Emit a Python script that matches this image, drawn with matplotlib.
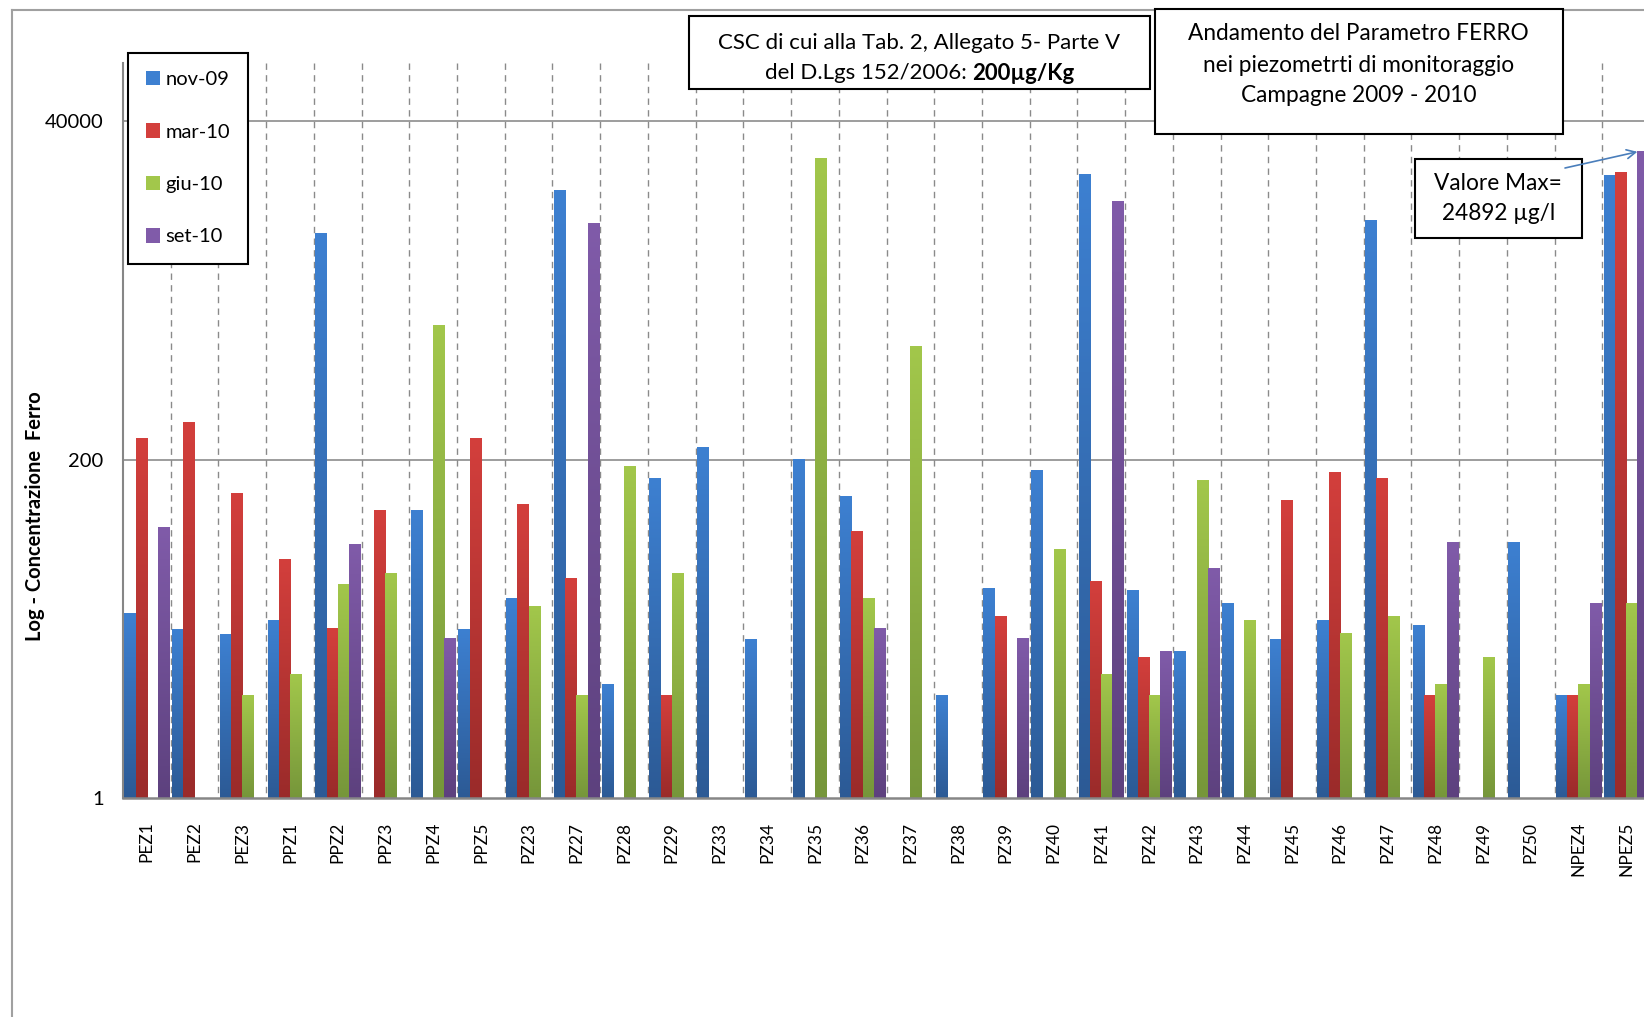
import numpy as np
import matplotlib
matplotlib.use("Agg")
import matplotlib.pyplot as plt
from matplotlib.lines import Line2D
from matplotlib.patches import Rectangle, Patch, FancyArrowPatch
from matplotlib.colors import to_rgb
from matplotlib.ticker import FixedLocator, FixedFormatter, NullLocator

# ---- data -------------------------------------------------------------
categories = ["PEZ1", "PEZ2", "PEZ3", "PPZ1", "PPZ2", "PPZ3", "PPZ4", "PPZ5",
              "PZ23", "PZ27", "PZ28", "PZ29", "PZ33", "PZ34", "PZ35", "PZ36",
              "PZ37", "PZ38", "PZ39", "PZ40", "PZ41", "PZ42", "PZ43", "PZ44",
              "PZ45", "PZ46", "PZ47", "PZ48", "PZ49", "PZ50", "NPEZ4", "NPEZ5"]

series_labels = ["nov-09", "mar-10", "giu-10", "set-10"]

nan = np.nan
nov_09 = [18, 14, 13, 16, 6960, nan, 90, 14,
          22.6, 13650, 5.9, 148, 244, 12, 202, 113,
          nan, 5, 26.5, 168, 17550, 25.7, 10, 21,
          12, 16, 8440, 14.8, nan, 54.4, 5, 17250]
mar_10 = [277, 361, 117, 41.7, 14.2, 90, nan, 277,
          100, 31, nan, 5, nan, nan, nan, 64.6,
          nan, nan, 17.1, nan, 29.5, 9, nan, nan,
          105, 165, 148, 5, nan, nan, 5, 18100]
giu_10 = [nan, nan, 5, 6.9, 28.2, 33.5, 1650, nan,
          20, 5, 181, 33.5, nan, nan, 22500, 22.6,
          1170, nan, nan, 48.7, 6.9, 5, 143.5, 16,
          nan, 13.1, 17.1, 5.9, 9, nan, 5.9, 20.9]
set_10 = [68.8, nan, nan, nan, 52.7, nan, 12.1, nan,
          nan, 8140, nan, nan, nan, nan, nan, 14.2,
          nan, nan, 12.1, nan, 11500, 10, 36.2, nan,
          nan, nan, nan, 54.4, nan, nan, 20.9, 24892]

y_ticks = [1, 200, 40000]
y_tick_labels = ["1", "200", "40000"]
y_max = 100000
max_value = 24892

# ---- style ------------------------------------------------------------
plt.rcParams["font.family"] = ["Lato", "DejaVu Sans"]
plt.rcParams["lines.scale_dashes"] = False

# light (top) / dark (bottom) shade for each series
shades = [("#3d80d1", "#2c5a95"),
          ("#d33f3c", "#9a2b2a"),
          ("#a2c74b", "#76963a"),
          ("#805ba9", "#5d417e")]

W, H = 1644, 1017
fig = plt.figure(figsize=(W / 100, H / 100), dpi=100)
fig.patch.set_facecolor("white")


def px(x, y):
    """pixel position (from top-left) -> figure fraction"""
    return x / W, 1 - y / H


cat_w = 47.72
ax = fig.add_axes([123 / W, 1 - 798 / H, len(categories) * cat_w / W, (798 - 63) / H])
ax.set_yscale("log", base=200)
ax.set_ylim(1, y_max)
ax.set_xlim(-0.5, len(categories) - 0.5)
ax.set_facecolor("none")

# gridlines
ax.hlines(y_ticks[1:], -0.5, len(categories) - 0.5, colors="#8c8c8c", lw=1.2, zorder=1)
ax.vlines(np.arange(0.5, len(categories) - 1, 1.0), y_max, 1, colors="#8a8a8a",
          lw=1.0, linestyles=(0, (4.6, 3.8)), zorder=1)

# bars with a vertical shading
x = np.arange(len(categories))
bw = 0.235
to_axes = ax.transData + ax.transAxes.inverted()
t = np.linspace(0, 1, 128)[:, None, None]
for i, vals in enumerate([nov_09, mar_10, giu_10, set_10]):
    v = np.asarray(vals, dtype=float)
    top, bot = (np.array(to_rgb(c)) for c in shades[i])
    bars = ax.bar(x + (i - 1.5) * bw, v - 1, bottom=1, width=bw,
                  color=shades[i][0], linewidth=0, zorder=3)
    grad = top[None, None, :] * (1 - t) + bot[None, None, :] * t
    for p in bars.patches:
        h = p.get_height()
        if not np.isfinite(h):
            continue
        xa0, ya0 = to_axes.transform((p.get_x(), p.get_y()))
        xa1, ya1 = to_axes.transform((p.get_x() + p.get_width(), p.get_y() + h))
        ax.imshow(grad, extent=(xa0, xa1, ya0, ya1), transform=ax.transAxes,
                  origin="upper", aspect="auto", interpolation="bilinear",
                  zorder=3.1)

ax.set_xlim(-0.5, len(categories) - 0.5)
ax.set_ylim(1, y_max)

# axes
for s in ("top", "right"):
    ax.spines[s].set_visible(False)
ax.spines["left"].set_color("#868686")
ax.spines["left"].set_linewidth(1.5)
ax.spines["bottom"].set_color("#868686")
ax.spines["bottom"].set_linewidth(1.8)
ax.spines["bottom"].set_zorder(4)

ax.yaxis.set_major_locator(FixedLocator(y_ticks))
ax.yaxis.set_major_formatter(FixedFormatter(y_tick_labels))
ax.yaxis.set_minor_locator(NullLocator())
ax.set_xticks(x)
ax.set_xticklabels(categories, rotation=90, fontsize=12.5)
ax.tick_params(axis="both", which="both", length=0)
ax.tick_params(axis="y", labelsize=14.5, pad=14)
ax.tick_params(axis="x", pad=17)

fig.text(*px(35, 516), "Log - Concentrazione  Ferro", rotation=90,
         fontsize=14.5, fontweight="bold", ha="center", va="center")

# legend
handles = [Patch(facecolor=shades[i][0], edgecolor="none") for i in range(4)]
leg = fig.legend(handles, series_labels, loc="upper left",
                 bbox_to_anchor=px(128, 52.7), bbox_transform=fig.transFigure,
                 frameon=True, fancybox=False, edgecolor="black", framealpha=1,
                 fontsize=14.5, borderpad=0.9, labelspacing=1.75,
                 handlelength=0.67, handleheight=0.72, handletextpad=0.3,
                 borderaxespad=0)
leg.get_frame().set_linewidth(1.5)

# outer chart frame
fig.add_artist(Line2D([11.5 / W, 11.5 / W], [1 - 9.5 / H, 0], transform=fig.transFigure,
                      color="#a0a0a0", lw=1.5))
fig.add_artist(Line2D([11.5 / W, 1], [1 - 9.5 / H, 1 - 9.5 / H], transform=fig.transFigure,
                      color="#a0a0a0", lw=1.5))


def box(x0, y0, x1, y1):
    fig.add_artist(Rectangle(px(x0, y1), (x1 - x0) / W, (y1 - y0) / H,
                             transform=fig.transFigure, facecolor="white",
                             edgecolor="black", lw=1.5, zorder=5))


# reference threshold box
box(689, 15.7, 1150, 89)
fig.text(*px(919.5, 43), "CSC di cui alla Tab. 2, Allegato 5- Parte V", fontsize=16,
         ha="center", va="center", zorder=6)
renderer = fig.canvas.get_renderer()
ta = fig.text(0, 0, "del D.Lgs 152/2006: ", fontsize=16, ha="left", va="center", zorder=6)
tb = fig.text(0, 0, "200\u00b5g/Kg", fontsize=16, fontweight="bold", ha="left",
              va="center", zorder=6)
wa = ta.get_window_extent(renderer).width
wb = tb.get_window_extent(renderer).width
start = 919.5 - (wa + wb) / 2
ta.set_position(px(start, 73))
tb.set_position(px(start + wa, 73))

# title box
box(1154.6, 9, 1563, 134)
for yy, line in zip([33, 65, 96], ["Andamento del Parametro FERRO",
                                   "nei piezometrti di monitoraggio",
                                   "Campagne 2009 - 2010"]):
    fig.text(*px(1358.8, yy), line, fontsize=16.3, ha="center", va="center", zorder=6)

# maximum value callout
box(1415, 159, 1582, 238)
fig.text(*px(1498, 183), "Valore Max=", fontsize=16.3, ha="center", va="center", zorder=6)
fig.text(*px(1499, 213), f"{max_value} \u00b5g/l", fontsize=16.3, ha="center", va="center",
         zorder=6)

tip_disp = ax.transData.transform((x[-1] + 1.5 * bw - bw / 2, max_value))
tip = fig.transFigure.inverted().transform(tip_disp)
fig.add_artist(FancyArrowPatch(posA=px(1565, 168), posB=tuple(tip),
                               transform=fig.transFigure, arrowstyle="->",
                               mutation_scale=16, color="#4a7ebb", lw=1.2,
                               shrinkA=0, shrinkB=0, zorder=7))

fig.savefig("out.png", dpi=100)
